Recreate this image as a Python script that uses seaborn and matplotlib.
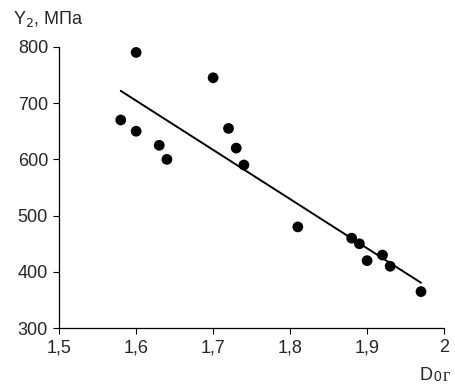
import numpy as np
import pandas as pd
import matplotlib
matplotlib.use("Agg")
import matplotlib.pyplot as plt
import seaborn as sns

# data
d0 = [1.58, 1.60, 1.60, 1.63, 1.64, 1.70, 1.72, 1.73, 1.74, 1.81,
      1.88, 1.89, 1.90, 1.92, 1.93, 1.97]
y2 = [670, 790, 650, 625, 600, 745, 655, 620, 590, 480,
      460, 450, 420, 430, 410, 365]
x_ticks = [1.5, 1.6, 1.7, 1.8, 1.9, 2.0]
x_labels = ["1,5", "1,6", "1,7", "1,8", "1,9", "2"]
y_ticks = [300, 400, 500, 600, 700, 800]

df = pd.DataFrame({"D0": d0, "Y2": y2})

sns.set_style("ticks")
plt.rcParams["font.family"] = ["Liberation Sans", "DejaVu Sans"]

fig = plt.figure(figsize=(4.55, 3.87), dpi=100)
ax = fig.add_axes([0.130, 0.152, 0.846, 0.727])

sns.regplot(x="D0", y="Y2", data=df, ax=ax, ci=None, truncate=True,
            scatter_kws={"s": 60, "color": "black", "edgecolor": "none", "alpha": 1},
            line_kws={"color": "black", "linewidth": 1.4})

ax.set_xlim(1.5, 2.0)
ax.set_ylim(300, 800)
ax.set_xticks(x_ticks)
ax.set_xticklabels(x_labels)
ax.set_yticks(y_ticks)
ax.tick_params(labelsize=13, length=4, width=0.8, color="black", pad=4)
ax.set_xlabel("")
ax.set_ylabel("")
sns.despine(ax=ax)
for sp in ["left", "bottom"]:
    ax.spines[sp].set_linewidth(0.9)
    ax.spines[sp].set_color("black")

fig.text(0.028, 0.950, "Y$_2$, МПа", fontsize=13, va="center", ha="left")
fig.text(0.922, 0.030, "D", fontsize=13, va="center", ha="left")
fig.text(0.953, 0.027, "0", fontsize=10, va="center", ha="left")
fig.text(0.973, 0.027, "г", fontsize=13, va="center", ha="left", family="Liberation Serif")

fig.savefig("out.png", dpi=100)
